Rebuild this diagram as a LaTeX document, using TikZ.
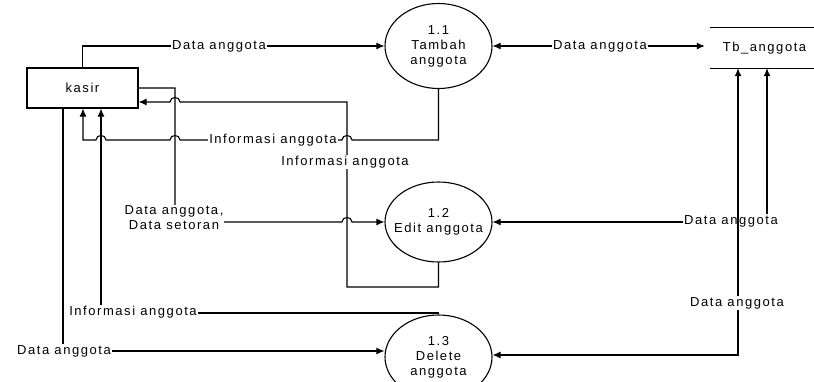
\documentclass[tikz,border=0pt]{standalone}
\usepackage{fontspec}
\setmainfont{Liberation Sans}[LetterSpace=12]
\usetikzlibrary{shapes.geometric,arrows.meta}
\begin{document}
\begin{tikzpicture}[x=1pt,y=-1pt,
  font=\fontsize{13}{15}\selectfont,
  conn/.style={draw, line width=1.1pt},
  arr/.style={conn, -{Latex[length=8pt,width=7pt]}},
  arrboth/.style={conn, {Latex[length=8pt,width=7pt]}-{Latex[length=8pt,width=7pt]}},
  lbl/.style={fill=white, inner sep=1pt, align=center},
  proc/.style={ellipse, draw, line width=1.1pt, minimum width=107pt, inner xsep=-12pt, inner ysep=0pt, align=center},
  ent/.style={rectangle, draw, line width=1.1pt, minimum width=111pt, minimum height=40pt, inner sep=0pt},
  store/.style={minimum width=104pt, minimum height=40pt, inner sep=0pt}]
\useasboundingbox (0,0) rectangle (814,381);
\clip (0,0) rectangle (814,381);

% nodes
\node[ent] (kasir) at (82.5,88) {kasir};
\node[proc, minimum height=85pt] (p11) at (438.5,46) {1.1\\Tambah\\anggota};
\node[proc, minimum height=80pt] (p12) at (438.5,222) {1.2\\Edit anggota};
\node[proc, minimum height=84pt] (p13) at (438.5,357) {1.3\\Delete\\anggota};
\node[store] (tb) at (762,48) {\hspace{5pt}Tb\_anggota};
\draw[line width=1.1pt] (tb.north west) -- (tb.north east);
\draw[line width=1.1pt] (tb.south west) -- (tb.south east);

% coordinates
\coordinate (b1) at (83,140);
\coordinate (c5) at (347,102);
\coordinate (c6) at (101,313);
\coordinate (c7) at (63,351);
\coordinate (c8) at (767,222);
\coordinate (c9) at (738,355);

% kasir -> 1.1
\draw[arr] (kasir.north) |- (p11.west);
\node[lbl] (l1) at (219,46) {Data anggota};

% 1.1 <-> Tb
\draw[arrboth, shorten >=5pt] (p11.east) -- (p11.east -| tb.west);
\node[lbl] (l2) at (600,46) {Data anggota};

% 1.1 -> kasir (Informasi anggota)
\draw[arr] (p11.south) |- (352,140) .. controls (352,134) and (342,134) .. (342,140)
  -- (180,140) .. controls (180,134) and (170,134) .. (170,140)
  -- (106,140) .. controls (106,134) and (96,134) .. (96,140)
  -- (b1) -- (b1 |- kasir.south);
\node[lbl] (l3) at (273,140) {Informasi anggota};

% kasir -> 1.2
\draw[arr] (kasir.east) -- (175,88) -- (175,222) -- (342,222)
  .. controls (342,216) and (352,216) .. (352,222) -- (p12.west);
\node[lbl] (l4) at (174,218) {Data anggota,\\Data setoran};

% 1.2 -> kasir
\draw[arr] (p12.south) |- (347,287) -- (c5) -- (180,102)
  .. controls (180,96) and (170,96) .. (170,102) -- (c5 -| kasir.east);
\node[lbl] (l5) at (345,162) {Informasi anggota};

% 1.3 -> kasir
\draw[arr] (p13.north) |- (c6) -- (c6 |- kasir.south);
\node[lbl] (l6) at (133,312) {Informasi anggota};

% kasir -> 1.3
\draw[arr] (c7 |- kasir.south) -- (c7) -- (c7 -| p13.west);
\node[lbl] (l7) at (64,351) {Data anggota};

% 1.2 <-> Tb
\draw[arrboth] (p12.east) -- (c8) -- (c8 |- tb.south);
\node[lbl] (l8) at (731,221) {Data anggota};

% 1.3 <-> Tb
\draw[arrboth] (c9 -| p13.east) -- (c9) -- (c9 |- tb.south);
\node[lbl] (l9) at (737,303) {Data anggota};
\end{tikzpicture}
\end{document}
